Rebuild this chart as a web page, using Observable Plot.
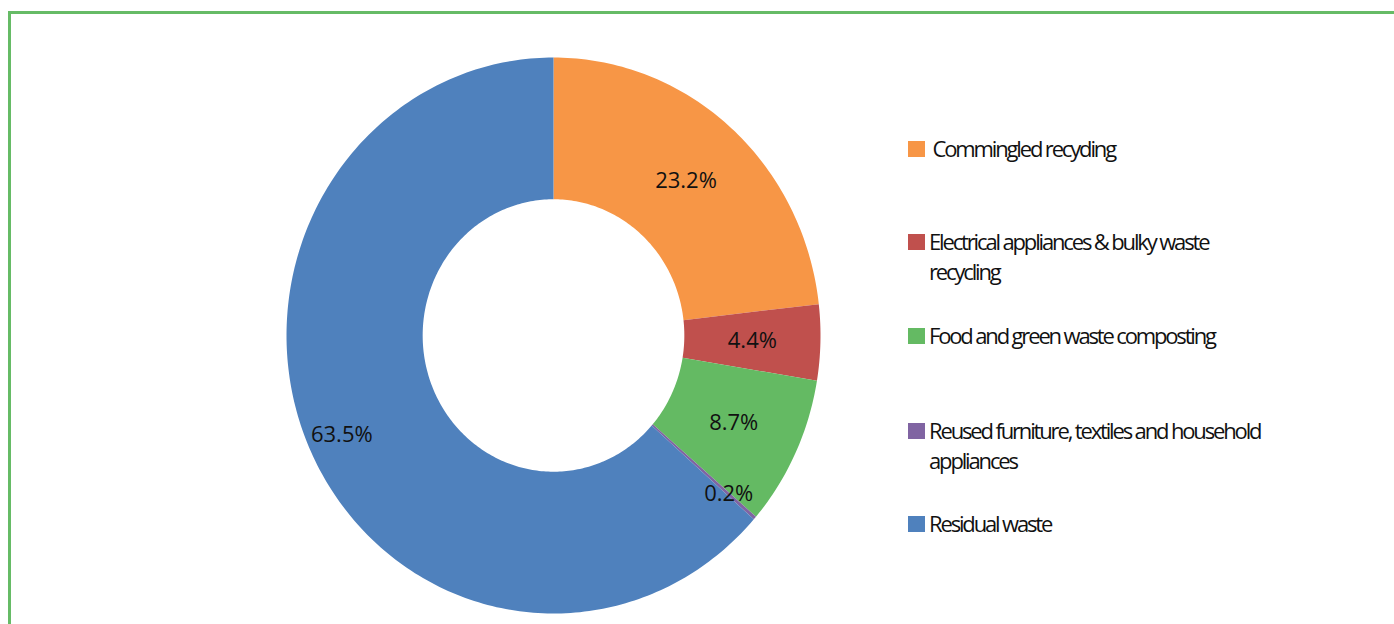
<!DOCTYPE html>
<html><head><meta charset="utf-8">
<script src="https://cdn.jsdelivr.net/npm/d3@7"></script>
<script src="https://cdn.jsdelivr.net/npm/@observablehq/plot@0.6"></script>
<style>
html,body{margin:0;padding:0;background:#fff;overflow:hidden}
#wrap{position:relative;width:1394px;height:624px;overflow:hidden}
#frame{position:absolute;left:8px;top:11px;width:1500px;height:800px;border:3px solid #66BB66;box-sizing:border-box}
#chart{position:absolute;left:0;top:0}
.leg{position:absolute;font-family:"Open Sans";font-size:22px;letter-spacing:-2.15px;color:#111;line-height:30px;white-space:pre}
.sw{position:absolute;width:17px;height:16px}
</style></head><body>
<div id="wrap"><div id="frame"></div><div id="chart"></div><div id="legend"></div></div>
<script>
const categories = ["Commingled recyding","Electrical appliances & bulky waste recycling","Food and green waste composting","Reused furniture, textiles and household appliances","Residual waste"];
const values = [23.2, 4.4, 8.7, 0.2, 63.5];
const valueLabels = ["23.2%","4.4%","8.7%","0.2%","63.5%"];
const colors = ["#F79646","#C0504D","#64BA63","#8064A2","#4F81BD"];
const legendLines = [[" Commingled recyding"],["Electrical appliances & bulky waste","recycling"],["Food and green waste composting"],["Reused furniture, textiles and household","appliances"],["Residual waste"]];

const inner = 0.49;
const total = d3.sum(values);
const pts = [];
const labs = [];
let acc = 0;
categories.forEach((cat, i) => {
  const a0 = acc / total * 2 * Math.PI;
  acc += values[i];
  const a1 = acc / total * 2 * Math.PI;
  const n = Math.max(2, Math.ceil((a1 - a0) / (Math.PI / 180)));
  for (let k = 0; k <= n; k++) {
    const a = a0 + (a1 - a0) * k / n;
    pts.push({cat, x: Math.sin(a), y: Math.cos(a)});
  }
  for (let k = n; k >= 0; k--) {
    const a = a0 + (a1 - a0) * k / n;
    pts.push({cat, x: inner * Math.sin(a), y: inner * Math.cos(a)});
  }
  const am = (a0 + a1) / 2;
  const share = values[i] / total;
  const r = (share < 0.01 || share > 0.5) ? 0.87 : 0.745;
  labs.push({x: r * Math.sin(am), y: r * Math.cos(am), text: valueLabels[i]});
});

const chart = Plot.plot({
  width: 1394, height: 624, margin: 0,
  x: {domain: [-1, 1], range: [286, 820], axis: null},
  y: {domain: [-1, 1], range: [613, 57], axis: null},
  color: {domain: categories, range: colors},
  style: {background: "transparent", overflow: "visible"},
  marks: [
    Plot.line(pts, {x: "x", y: "y", z: "cat", fill: "cat", stroke: "none", curve: "linear-closed"}),
    Plot.text(labs, {x: "x", y: "y", text: "text", fontSize: 22, fontFamily: "Open Sans", fill: "#111"})
  ]
});
document.getElementById("chart").appendChild(chart);

const legend = document.getElementById("legend");
const tops = [141, 234, 328, 423, 516];
categories.forEach((cat, i) => {
  const sw = document.createElement("div");
  sw.className = "sw";
  sw.style.left = "908px";
  sw.style.top = tops[i] + "px";
  sw.style.background = colors[i];
  legend.appendChild(sw);
  const t = document.createElement("div");
  t.className = "leg";
  t.style.left = "929px";
  t.style.top = (tops[i] - 8) + "px";
  t.textContent = legendLines[i].join("\n");
  legend.appendChild(t);
});
</script>
</body></html>
